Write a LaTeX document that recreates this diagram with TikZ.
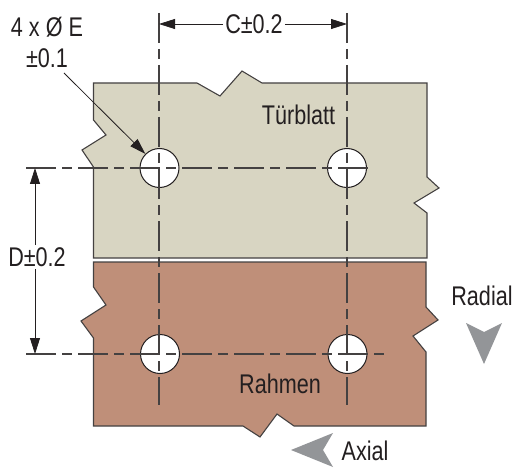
\documentclass[tikz,border=0pt]{standalone}
\usepackage{fontspec}
\setmainfont{Liberation Sans}[FakeStretch=0.8]
\usetikzlibrary{arrows.meta}
\definecolor{doorcol}{HTML}{D8D5C2}
\definecolor{framecol}{HTML}{BF8F79}
\definecolor{dircol}{HTML}{939598}
\definecolor{inkcol}{HTML}{231F20}
\tikzset{
	panel/.style={draw=inkcol!85!white, line width=1.1pt, line join=miter},
	hole/.style={circle, draw=inkcol, fill=white, line width=1pt, minimum size=39pt, inner sep=0pt},
	centreline/.style={draw=inkcol!85!white, line width=1.2pt, dash pattern=on 30pt off 6pt on 10pt off 6pt},
	dimline/.style={draw=inkcol, line width=0.8pt, -{Triangle[length=16pt,width=10pt]}},
	dirmark/.style={fill=dircol},
	lbl/.style={font=\fontsize{27}{31}\selectfont, text=inkcol, inner sep=2pt, align=center}
}
\begin{document}
\begin{tikzpicture}[x=1pt,y=-1pt]
	\useasboundingbox (0,0) rectangle (517,468);
	
	% Door leaf
	\draw [panel, fill=doorcol] (93.5,83) -- (197,83) -- (220,96) -- (242,71) -- (262,83) -- (427,83) -- (427,177) -- (439,188) -- (414,203) -- (427,213) -- (427,258) -- (93.5,258) -- (93.5,167) -- (82,150) -- (106,135) -- (93.5,120) -- cycle ;
	
	% Frame
	\draw [panel, fill=framecol] (93.5,262) -- (426,262) -- (426,307) -- (438,320) -- (413,336) -- (426,352) -- (426,426) -- (294,426) -- (277,414) -- (260,437) -- (243,426) -- (93.5,426) -- (93.5,338) -- (81,321) -- (106,305) -- (93.5,287) -- cycle ;
	
	% Holes
	\foreach \name/\x/\y in {holeA/159.5/168, holeB/347/168, holeC/160/354, holeD/347.5/354}
	{
		\node [hole] (\name) at (\x,\y) {};
	}
	
	% Ends of centre lines
	\coordinate (leftTop) at (159,13);
	\coordinate (leftEnd) at (159,405);
	\coordinate (rightTop) at (347,13);
	\coordinate (rightEnd) at (347,405);
	\coordinate (upStart) at (26,168);
	\coordinate (upEnd) at (368,168);
	\coordinate (lowStart) at (26,354);
	\coordinate (lowEnd) at (385,354);
	
	% Centre lines
	\draw [centreline] (leftTop) -- (leftEnd);
	\draw [centreline] (rightTop) -- (rightEnd);
	\draw [centreline] (upStart) -- (upEnd);
	\draw [centreline] (lowStart) -- (lowEnd);
	
	% C dimension
	\node [lbl] (sizeC) at (254,24) {C±0.2};
	\coordinate (sizeCleft) at (159,24);
	\coordinate (sizeCright) at (347,24);
	\draw [dimline] (sizeC) -- (sizeCleft);
	\draw [dimline] (sizeC) -- (sizeCright);
	
	% D dimension
	\node [lbl] (sizeD) at (37,257) {D±0.2};
	\coordinate (sizeDtop) at (35,168);
	\coordinate (sizeDlow) at (35,354);
	\draw [dimline] (sizeD.north -| sizeDtop) -- (sizeDtop);
	\draw [dimline] (sizeD.south -| sizeDlow) -- (sizeDlow);
	
	% Hole callout
	\node [lbl] (holeSize) at (47,42) {4 x Ø E\\±0.1};
	\coordinate (calloutStart) at (64,73);
	\draw [dimline] (calloutStart) -- (holeA);
	
	% Names
	\node [lbl] (doorName) at (298.5,115) {Türblatt};
	\node [lbl] (frameName) at (280,384) {Rahmen};
	
	% Directions
	\node [lbl] (radialName) at (482,296) {Radial};
	\node [lbl] (axialName) at (365,451) {Axial};
	\fill [dirmark] (466,323) -- (484,332) -- (502,323) -- (484,364) -- cycle ;
	\fill [dirmark] (291,450) -- (333,433) -- (323,450) -- (333,467) -- cycle ;
	
\end{tikzpicture}
\end{document}
